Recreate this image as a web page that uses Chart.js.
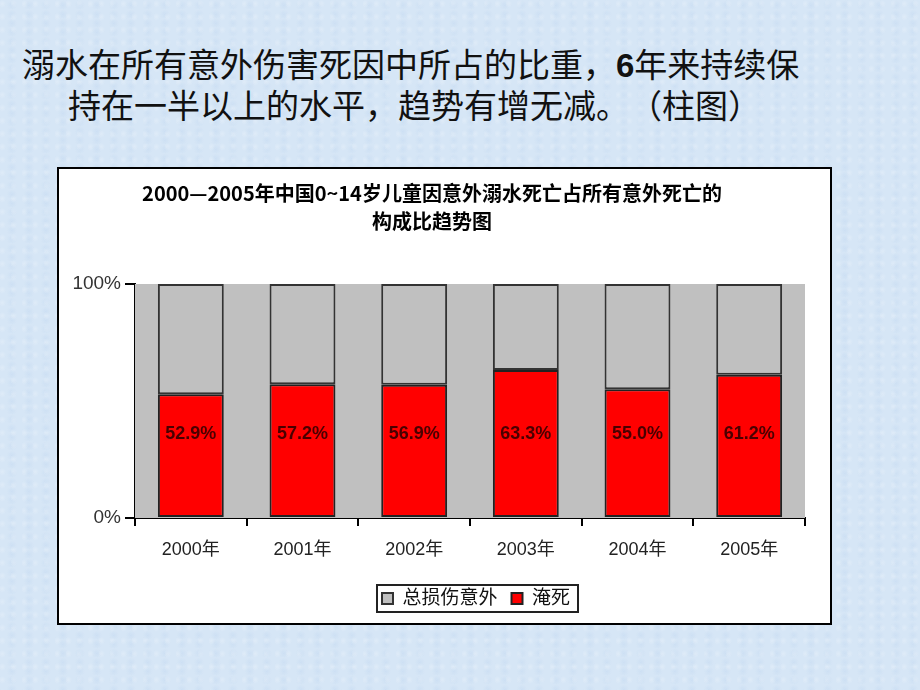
<!DOCTYPE html>
<html>
<head>
<meta charset="utf-8">
<script src="https://cdn.jsdelivr.net/npm/chart.js@4.4.0/dist/chart.umd.min.js"></script>
<style>
  html, body { margin: 0; padding: 0; }
  body {
    width: 920px; height: 690px; overflow: hidden; position: relative;
    background-color: #d6e6f6;
    background-image:
      radial-gradient(circle at 20% 30%, rgba(255,255,255,0.22) 0, rgba(255,255,255,0) 4px),
      radial-gradient(circle at 70% 60%, rgba(180,205,235,0.25) 0, rgba(180,205,235,0) 5px);
    background-size: 11px 13px, 17px 9px;
    font-family: "Noto Sans CJK SC", sans-serif;
  }
  .heading {
    position: absolute; left: 22px; top: 44px; width: 890px;
    font-size: 33px; line-height: 38px; color: #111;
    text-spacing-trim: space-all;
    white-space: nowrap;
  }
  .heading .l2 { padding-left: 46px; }
  .heading b { font-family: "Liberation Sans", Arial, sans-serif; font-weight: bold; }
  .box {
    position: absolute; left: 57px; top: 167px;
    width: 771px; height: 454px;
    border: 2px solid #000; background: #fff;
  }
</style>
</head>
<body>
<div class="heading">
  <div>溺水在所有意外伤害死因中所占的比重，<b>6</b>年来持续保</div>
  <div class="l2">持在一半以上的水平，趋势有增无减。（柱图）</div>
</div>
<div class="box"><canvas id="c" width="771" height="454"></canvas></div>
<script>
// chart data
const years = ["2000年", "2001年", "2002年", "2003年", "2004年", "2005年"];
const drowning = [52.9, 57.2, 56.9, 63.3, 55.0, 61.2];
const otherInjury = [47.1, 42.8, 43.1, 36.7, 45.0, 38.8];
const titleLines = ["2000—2005年中国0~14岁儿童因意外溺水死亡占所有意外死亡的", "构成比趋势图"];

const cjk = "'Liberation Sans', 'Noto Sans CJK SC', sans-serif";
const legendShift = 44;

// gray plot background + value labels + legend frame
const decor = {
  id: "decor",
  beforeDatasetsDraw(chart) {
    const a = chart.chartArea, ctx = chart.ctx;
    ctx.save();
    ctx.fillStyle = "#c0c0c0";
    ctx.fillRect(a.left, a.top, a.right - a.left, a.bottom - a.top);
    ctx.restore();
  },
  afterDatasetsDraw(chart) {
    const ctx = chart.ctx;
    const y = chart.scales.y.getPixelForValue(36);
    ctx.save();
    ctx.font = "bold 18px " + cjk;
    ctx.fillStyle = "#4a0000";
    ctx.textAlign = "center";
    ctx.textBaseline = "middle";
    chart.getDatasetMeta(0).data.forEach((bar, i) => {
      ctx.fillText(drowning[i].toFixed(1) + "%", bar.x, y);
    });
    ctx.restore();
  },
  afterLayout(chart) {
    chart.legend.left += legendShift;
    chart.legend.right += legendShift;
  },
  afterDraw(chart) {
    const boxes = chart.legend.legendHitBoxes, ctx = chart.ctx;
    if (!boxes.length) return;
    const l = Math.min(...boxes.map(b => b.left));
    const r = Math.max(...boxes.map(b => b.left + b.width));
    const mid = boxes[0].top + boxes[0].height / 2;
    ctx.save();
    ctx.strokeStyle = "#222";
    ctx.lineWidth = 2;
    ctx.strokeRect(l - 5, mid - 13.5, r - l + 13, 27);
    ctx.restore();
  }
};

new Chart(document.getElementById("c"), {
  type: "bar",
  data: {
    labels: years,
    datasets: [
      {
        label: "淹死",
        data: drowning,
        backgroundColor: "#ff0000",
        borderColor: "#222",
        borderWidth: 2,
        borderSkipped: false
      },
      {
        label: "总损伤意外",
        data: otherInjury,
        backgroundColor: "#c0c0c0",
        borderColor: "#333",
        borderWidth: 2,
        borderSkipped: false
      }
    ]
  },
  options: {
    responsive: false,
    animation: false,
    layout: { padding: { left: 0, right: 25, top: 0, bottom: 5 } },
    datasets: { bar: { categoryPercentage: 1, barPercentage: 0.59 } },
    plugins: {
      title: {
        display: true,
        text: titleLines,
        color: "#000",
        font: { family: "'Noto Sans CJK SC', sans-serif", size: 20, weight: "bold", lineHeight: 1.4 },
        padding: { top: 10, bottom: 49 }
      },
      legend: {
        position: "bottom",
        reverse: true,
        labels: {
          color: "#111",
          boxWidth: 11,
          boxHeight: 11,
          padding: 14,
          font: { family: cjk, size: 19 }
        }
      },
      tooltip: { enabled: false }
    },
    scales: {
      x: {
        stacked: true,
        grid: { offset: true, drawOnChartArea: false, drawTicks: true, tickLength: 8, color: "#000", lineWidth: 2 },
        border: { color: "#000", width: 2 },
        ticks: { color: "#222", font: { family: cjk, size: 18 }, padding: 13, maxRotation: 0 },
        afterFit(scale) { scale.height = 57; }
      },
      y: {
        stacked: true,
        min: 0,
        max: 100,
        grid: { drawOnChartArea: false, drawTicks: true, tickLength: 10, color: "#000", lineWidth: 2 },
        border: { color: "#000", width: 2 },
        ticks: {
          stepSize: 100,
          color: "#333",
          font: { family: cjk, size: 19 },
          padding: 4,
          callback: v => v + "%"
        },
        afterFit(scale) { scale.width = 76; }
      }
    }
  },
  plugins: [decor]
});
</script>
</body>
</html>
